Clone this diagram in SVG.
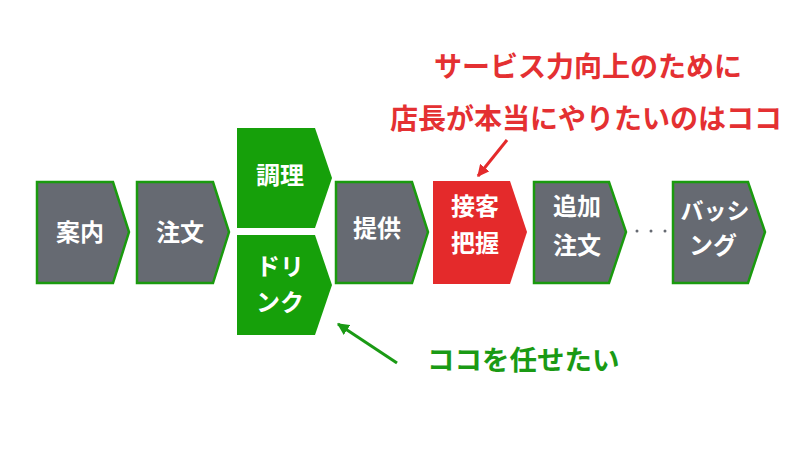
<svg xmlns="http://www.w3.org/2000/svg" width="800" height="450" viewBox="0 0 800 450">
<style>
.gray{fill:#666a72;stroke:#1a9a0e;stroke-width:2.5}
.green{fill:#16a00a}
.red{fill:#e42a2b}
.lbl{font-family:"Noto Sans CJK JP","Noto Sans",sans-serif;font-weight:bold;font-size:24px;fill:#fff;text-anchor:middle}
.rt{font-family:"Noto Sans CJK JP","Noto Sans",sans-serif;font-weight:bold;font-size:28px;fill:#e43032;text-anchor:middle}
.gt{font-family:"Noto Sans CJK JP","Noto Sans",sans-serif;font-weight:bold;font-size:27.5px;fill:#1a9a14}
</style>
<defs>
<marker id="ar" viewBox="0 0 10 10" refX="9" refY="5" markerWidth="4" markerHeight="4" orient="auto"><path d="M0,0 L10,5 L0,10 z" fill="#e42a2b"/></marker>
<marker id="ag" viewBox="0 0 10 10" refX="9" refY="5" markerWidth="4" markerHeight="4" orient="auto"><path d="M0,0 L10,5 L0,10 z" fill="#1a9a14"/></marker>
</defs>
<g id="n-annai"><path class="gray" d="M37,182 H113 L129,232 L113,283 H37 Z"/><text class="lbl" x="80" y="241">案内</text></g>
<g id="n-chumon"><path class="gray" d="M137,182 H213 L229,232 L213,283 H137 Z"/><text class="lbl" x="180" y="241">注文</text></g>
<g id="n-chori"><path class="green" d="M237,128 H315 L332,178 L315,228 H237 Z"/><text class="lbl" x="280" y="184">調理</text></g>
<g id="n-drink"><path class="green" d="M237,235 H315 L332,285 L315,335 H237 Z"/><text class="lbl" x="280" y="275">ドリ</text><text class="lbl" x="280" y="311">ンク</text></g>
<g id="n-teikyo"><path class="gray" d="M336,182 H412 L428,232 L412,283 H336 Z"/><text class="lbl" x="377" y="237">提供</text></g>
<g id="n-sekkyaku"><path class="red" d="M433,181 H510 L527,232 L510,284 H433 Z"/><text class="lbl" x="475" y="215">接客</text><text class="lbl" x="475" y="252">把握</text></g>
<g id="n-tsuika"><path class="gray" d="M534,182 H609 L626,232 L609,283 H534 Z"/><text class="lbl" x="577" y="215">追加</text><text class="lbl" x="577" y="254">注文</text></g>
<g id="n-dots" fill="#666a72"><circle cx="637" cy="231" r="1.5"/><circle cx="651" cy="231" r="1.5"/><circle cx="665" cy="231" r="1.5"/></g>
<g id="n-bashing"><path class="gray" d="M673,182 H748 L765,232 L748,283 H673 Z"/><text class="lbl" x="715" y="219" style="font-size:23px">バッシ</text><text class="lbl" x="713" y="254">ング</text></g>
<g id="connectors">
<line x1="507" y1="140" x2="478" y2="176" stroke="#e42a2b" stroke-width="3" marker-end="url(#ar)"/>
<line x1="397" y1="363" x2="338" y2="324" stroke="#1a9a14" stroke-width="3" marker-end="url(#ag)"/>
</g>
<g id="notes">
<text class="rt" x="588" y="77">サービス力向上のために</text>
<text class="rt" x="586" y="129">店長が本当にやりたいのはココ</text>
<text class="gt" x="427" y="370">ココを任せたい</text>
</g>
</svg>
